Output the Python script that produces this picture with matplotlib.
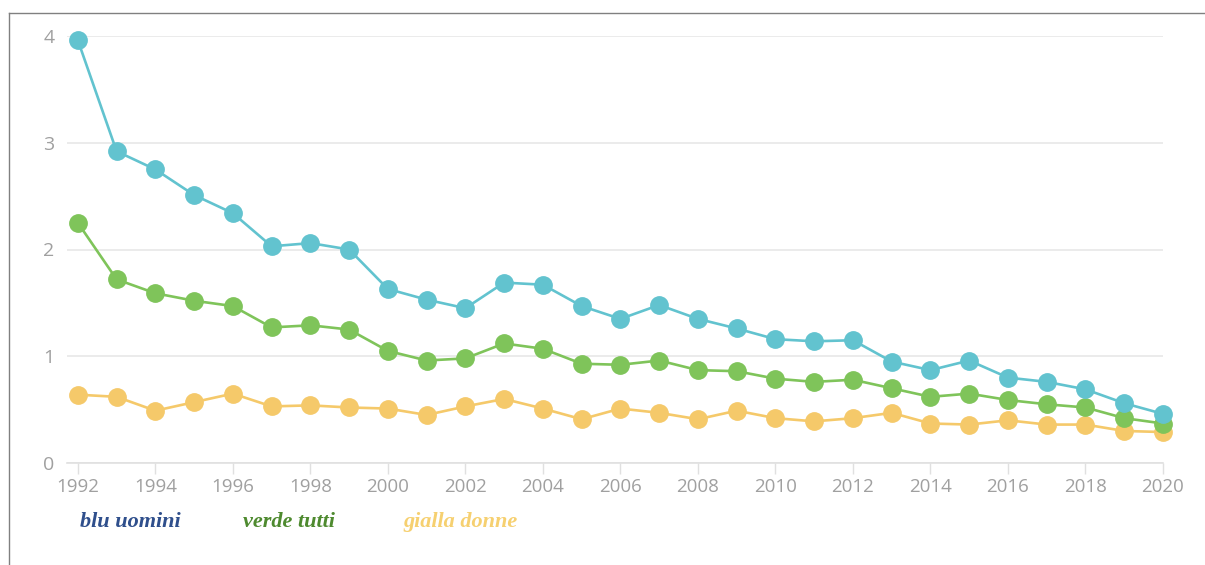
import matplotlib
matplotlib.use("Agg")
import matplotlib.pyplot as plt
from matplotlib.lines import Line2D

# values
years = list(range(1992, 2021))
uomini = [3.96, 2.92, 2.75, 2.51, 2.34, 2.03, 2.06, 2.00, 1.63, 1.53,
          1.45, 1.69, 1.67, 1.47, 1.35, 1.48, 1.35, 1.26, 1.16, 1.14,
          1.15, 0.95, 0.87, 0.96, 0.80, 0.76, 0.69, 0.56, 0.46]
tutti = [2.25, 1.72, 1.59, 1.52, 1.47, 1.27, 1.29, 1.25, 1.05, 0.96,
         0.98, 1.12, 1.07, 0.93, 0.92, 0.96, 0.87, 0.86, 0.79, 0.76,
         0.78, 0.70, 0.62, 0.65, 0.59, 0.55, 0.52, 0.42, 0.37]
donne = [0.64, 0.62, 0.49, 0.57, 0.65, 0.53, 0.54, 0.52, 0.51, 0.45,
         0.53, 0.60, 0.51, 0.41, 0.51, 0.47, 0.41, 0.49, 0.42, 0.39,
         0.42, 0.47, 0.37, 0.36, 0.40, 0.36, 0.36, 0.30, 0.29]
xticks = list(range(1992, 2021, 2))
yticks = [0, 1, 2, 3, 4]

legend_labels = ["blu uomini", "verde tutti", "gialla donne"]
legend_colors = ["#2f4f8c", "#4e8a2f", "#f6d070"]

W, H = 1205, 565
fig = plt.figure(figsize=(W / 100, H / 100), dpi=100)
ax = fig.add_axes([67 / W, 1 - 463 / H, (1163 - 67) / W, (463 - 36) / H])

for vals, col in [(donne, "#f5c96a"), (tutti, "#7fc45a"), (uomini, "#62c3cf")]:
    ax.plot(years, vals, color=col, linewidth=1.9, marker="o",
            markersize=12.5, clip_on=False, zorder=3)

ax.set_xlim(1991.72, 2020)
ax.set_ylim(0, 4)
ax.set_yticks(yticks)
ax.set_xticks(xticks)
ax.grid(axis="y", color="#e8e8e8", linewidth=1.2)
ax.set_axisbelow(True)
for s in ["top", "right", "left"]:
    ax.spines[s].set_visible(False)
ax.spines["bottom"].set_color("#e0e0e0")
ax.spines["bottom"].set_linewidth(1.2)
ax.tick_params(axis="y", length=0, pad=9, labelsize=14, labelcolor="#a0a0a0")
ax.tick_params(axis="x", length=8, width=1, color="#e0e0e0", pad=3,
               labelsize=13.5, labelcolor="#a0a0a0")
for lab in ax.get_xticklabels() + ax.get_yticklabels():
    lab.set_family("Open Sans")

# legend made of coloured words
for lab, col, px in zip(legend_labels, legend_colors, [80, 243, 403]):
    fig.text(px / W, 1 - 522 / H, lab, color=col, fontsize=16,
             family="Liberation Serif", style="italic", weight="bold",
             va="center", ha="left")

# screenshot frame lines at top and left
fig.add_artist(Line2D([9 / W, 1], [1 - 13 / H, 1 - 13 / H], color="#808080", linewidth=1))
fig.add_artist(Line2D([9 / W, 9 / W], [0, 1 - 13 / H], color="#808080", linewidth=1))

fig.savefig("out.png", dpi=100)
